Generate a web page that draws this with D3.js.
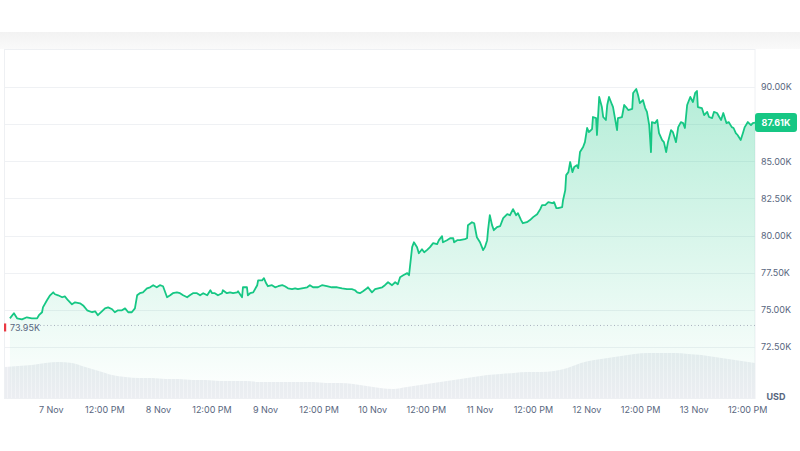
<!DOCTYPE html>
<html><head><meta charset="utf-8">
<script src="https://cdn.jsdelivr.net/npm/d3@7"></script>
<style>body{margin:0;background:#fff;} svg{display:block;font-family:Inter, "Noto Sans", sans-serif;}</style>
</head><body><svg id="c" width="800" height="451"></svg>
<script>
// ---- data ----
const startTime = new Date(2024, 10, 6, 13, 45);
const spanHours = 168;
const priceHours = [1.1,2.0,2.7,3.8,4.9,6.0,7.2,7.6,8.3,8.5,9.4,10.1,10.8,11.2,11.9,12.8,13.4,14.1,15.0,15.7,16.8,17.5,18.4,19.5,20.2,20.8,21.7,22.4,23.1,24.0,24.6,25.3,26.2,26.9,27.6,28.4,29.1,29.6,30.2,30.9,31.8,32.5,33.2,34.0,34.7,35.4,36.3,37.0,37.6,38.5,39.2,39.9,40.8,41.4,42.1,43.0,43.7,44.4,45.3,46.0,46.4,47.0,47.7,48.6,48.8,49.7,50.4,51.1,52.0,52.2,53.1,53.3,54.2,54.4,54.9,55.6,56.5,56.7,57.6,58.0,58.5,58.9,59.8,60.5,61.2,62.1,62.7,63.4,64.3,65.0,65.6,66.5,67.7,68.3,69.0,70.1,71.0,72.1,73.2,74.4,75.5,76.6,77.7,78.4,78.9,79.5,80.2,81.1,81.3,82.2,82.9,83.6,84.5,85.1,85.8,86.7,87.4,88.0,88.5,89.2,90.1,90.5,91.2,91.6,92.3,92.7,93.4,93.9,94.5,95.2,95.9,96.8,97.2,97.9,98.1,99.0,99.7,100.4,100.6,101.3,101.9,103.0,103.5,103.7,104.6,105.1,105.7,106.4,107.1,107.5,108.0,108.2,108.6,109.1,109.5,110.2,110.9,111.6,112.5,113.1,113.8,114.5,114.9,115.6,116.0,116.9,117.6,118.3,119.2,119.9,120.3,121.0,121.7,122.6,123.0,123.5,123.9,124.8,125.0,125.5,125.7,126.2,126.6,127.1,127.5,128.1,128.4,128.8,129.5,129.9,130.4,130.8,131.5,131.7,132.4,132.6,133.1,133.7,134.0,134.6,134.9,135.3,136.0,136.2,137.1,137.3,138.2,138.7,139.1,139.6,140.5,140.7,141.4,141.8,142.2,142.9,143.4,143.8,144.3,144.7,144.9,145.6,146.1,146.5,147.2,147.6,148.1,148.5,149.2,149.6,150.3,150.8,151.4,151.9,152.3,152.8,153.5,154.1,154.6,155.0,155.2,156.1,156.6,157.3,157.7,158.4,158.8,159.5,160.0,160.4,160.9,161.6,162.1,162.8,163.2,163.7,164.1,164.8,165.3,165.7,166.4,167.1,167.5,168.0];
const priceValues = [74.43,74.77,74.43,74.36,74.50,74.43,74.43,74.64,74.84,75.17,75.65,75.98,76.18,76.05,75.98,75.85,75.91,75.65,75.37,75.51,75.44,75.30,74.97,74.84,74.90,74.64,74.90,75.10,75.17,75.04,74.84,74.97,74.97,75.10,74.84,74.84,75.10,75.98,76.12,76.18,76.45,76.52,76.66,76.52,76.66,76.59,75.85,75.98,76.12,76.18,76.12,75.98,75.85,75.98,76.12,76.12,75.98,76.12,75.98,76.32,76.12,76.12,75.98,76.12,76.32,76.12,76.18,76.12,76.18,76.25,75.85,76.52,76.52,75.98,76.12,76.18,76.66,76.99,76.99,77.13,76.79,76.59,76.66,76.52,76.59,76.66,76.59,76.45,76.39,76.45,76.39,76.45,76.52,76.66,76.52,76.52,76.66,76.59,76.52,76.52,76.45,76.39,76.39,76.32,76.18,76.12,76.25,76.45,76.52,76.18,76.39,76.45,76.52,76.66,76.86,76.66,76.86,76.72,77.20,77.33,77.47,77.33,79.22,79.55,79.22,78.81,79.08,78.88,79.02,79.22,79.49,79.42,79.69,79.96,79.55,79.69,79.82,79.82,79.55,79.69,79.69,79.76,79.82,80.70,80.90,80.83,79.89,79.55,79.02,79.22,79.69,80.36,81.37,80.70,80.36,80.57,80.63,81.17,81.44,81.37,81.78,81.37,81.51,81.04,80.83,80.90,81.04,81.24,81.44,81.78,82.05,82.05,82.25,82.18,82.25,81.85,81.85,81.91,82.38,83.06,84.07,84.27,84.95,84.27,84.61,84.74,84.54,85.62,85.96,86.29,87.24,86.97,87.17,87.98,87.91,86.77,89.33,88.65,87.98,87.78,88.79,89.33,88.79,88.65,87.10,87.91,87.98,88.79,88.65,88.45,88.52,89.60,89.87,89.46,88.92,89.12,88.58,88.32,87.44,85.62,87.64,87.57,87.78,86.90,86.43,86.29,85.62,86.29,87.10,86.97,86.29,87.30,87.64,87.57,87.24,88.79,89.33,88.99,89.60,89.73,88.65,88.58,88.11,88.32,87.98,87.91,88.32,88.25,87.98,87.78,88.25,87.57,87.64,87.30,87.24,86.90,86.77,86.43,86.90,87.30,87.64,87.44,87.57,87.61];
const volumeHours = [0,3,6,9,12,15,18,21,24,27,30,33,36,39,42,45,48,51,54,57,60,63,66,69,72,75,78,81,84,87,90,93,96,99,102,105,108,111,114,117,120,123,126,129,132,135,138,141,144,147,150,153,156,159,162,165,168];
const volumeValues = [31,32,33,35,36,35,31,27,23,21,20,20,19,19,18,18,17,17,17,16,16,16,16,16,15,15,14,12,10,9,11,13,15,17,19,21,23,24,25,26,26,27,30,35,38,40,42,44,45,45,45,44,43,41,39,37,35];
const yTicks = [72500, 75000, 77500, 80000, 82500, 85000, 87500, 90000];
const baselinePrice = 73950;
const lastPrice = 87610;

// ---- chart ----
const svg = d3.select("#c");
const green = "#16c784", textCol = "#58667e";
const L = 5, R = 755, T = 49, B = 398;
const hourMs = 3600 * 1000;
const x = d3.scaleTime().domain([startTime, new Date(+startTime + spanHours * hourMs)]).range([L, R]);
const y = d3.scaleLinear().domain([72500, 90000]).range([347, 87]);
const yv = d3.scaleLinear().domain([0, 50]).range([B, B - 50]);

const prices = priceHours.map((h, i) => ({t: new Date(+startTime + h * hourMs), v: priceValues[i] * 1000}));
const vols = volumeHours.map((h, i) => ({t: new Date(+startTime + h * hourMs), v: volumeValues[i]}));

const defs = svg.append("defs");
const bandG = defs.append("linearGradient").attr("id", "band").attr("x1", 0).attr("x2", 0).attr("y1", 0).attr("y2", 1);
bandG.append("stop").attr("offset", 0).attr("stop-color", "#f2f2f2");
bandG.append("stop").attr("offset", 1).attr("stop-color", "#fafafa");
const ag = defs.append("linearGradient").attr("id", "areaG").attr("gradientUnits", "userSpaceOnUse")
  .attr("x1", 0).attr("x2", 0).attr("y1", y(90000)).attr("y2", B);
ag.append("stop").attr("offset", 0).attr("stop-color", green).attr("stop-opacity", 0.32);
ag.append("stop").attr("offset", 1).attr("stop-color", green).attr("stop-opacity", 0.0);
const pat = defs.append("pattern").attr("id", "volP").attr("patternUnits", "userSpaceOnUse").attr("width", 4).attr("height", 10);
pat.append("rect").attr("width", 4).attr("height", 10).attr("fill", "#f3f4f7");
pat.append("rect").attr("width", 3).attr("height", 10).attr("fill", "#eceef2");

// top band
svg.append("rect").attr("x", 0).attr("y", 32).attr("width", 800).attr("height", T - 32).attr("fill", "url(#band)");

// frame
svg.append("rect").attr("x", L - 0.5).attr("y", T + 0.5).attr("width", R - L + 0.5).attr("height", B - T).attr("fill", "#fff").attr("stroke", "#eef0f3");

// gridlines
svg.append("g").selectAll("line").data(yTicks).join("line")
  .attr("x1", L).attr("x2", R).attr("y1", d => Math.round(y(d)) + 0.5).attr("y2", d => Math.round(y(d)) + 0.5)
  .attr("stroke", "#eff1f4");

// volume
svg.append("path").datum(vols)
  .attr("d", d3.area().x(d => x(d.t)).y0(B).y1(d => yv(d.v)).curve(d3.curveMonotoneX))
  .attr("fill", "url(#volP)");

// price area + line
svg.append("path").datum(prices)
  .attr("d", d3.area().x(d => x(d.t)).y0(B).y1(d => y(d.v)))
  .attr("fill", "url(#areaG)");

// baseline
const by = y(baselinePrice);
svg.append("line").attr("x1", 40).attr("x2", R).attr("y1", by).attr("y2", by)
  .attr("stroke", "#a9b1bf").attr("stroke-width", 1).attr("stroke-dasharray", "1,2.5");

svg.append("path").datum(prices)
  .attr("d", d3.line().x(d => x(d.t)).y(d => y(d.v)))
  .attr("fill", "none").attr("stroke", green).attr("stroke-width", 1.8).attr("stroke-linejoin", "round");

svg.append("rect").attr("x", 4).attr("y", by - 2).attr("width", 2.2).attr("height", 8).attr("fill", "#ea3943");
svg.append("text").attr("x", 10).attr("y", by + 2).attr("dy", "0.35em").attr("font-size", 9)
  .attr("fill", textCol).text(d3.format(".2f")(baselinePrice / 1000) + "K");

// y axis (the label hidden under the current-price tag is left out)
const ly = y(lastPrice);
const yAxis = d3.axisRight(y).tickValues(yTicks.filter(d => Math.abs(y(d) - ly) > 12)).tickSize(0).tickPadding(0)
  .tickFormat(d => d3.format(".2f")(d / 1000) + "K");
const ya = svg.append("g").attr("transform", `translate(${R + 6},0)`).call(yAxis);
ya.select(".domain").remove();
ya.selectAll("text").attr("font-size", 9).attr("fill", textCol).attr("font-family", "Inter, sans-serif");

// current price label
svg.append("rect").attr("x", R).attr("y", ly - 9.5).attr("width", 42).attr("height", 19).attr("rx", 3).attr("fill", green);
svg.append("text").attr("x", R + 21).attr("y", ly).attr("dy", "0.35em").attr("text-anchor", "middle")
  .attr("font-size", 9).attr("font-weight", 700).attr("fill", "#fff").text(d3.format(".2f")(lastPrice / 1000) + "K");

// x axis
const fmt = d => d.getHours() === 0 ? d3.timeFormat("%-d %b")(d) : d3.timeFormat("%I:%M %p")(d);
const xAxis = d3.axisBottom(x).ticks(d3.timeHour.every(12)).tickSize(0).tickPadding(0).tickFormat(fmt);
const xa = svg.append("g").attr("transform", `translate(0,${B + 9})`).call(xAxis);
xa.select(".domain").remove();
xa.selectAll("text").attr("font-size", 9).attr("fill", textCol).attr("font-family", "Inter, sans-serif");

svg.append("text").attr("x", 776).attr("y", 397).attr("dy", "0.35em").attr("text-anchor", "middle")
  .attr("font-size", 9).attr("font-weight", 700).attr("fill", textCol).text("USD");
</script></body></html>
